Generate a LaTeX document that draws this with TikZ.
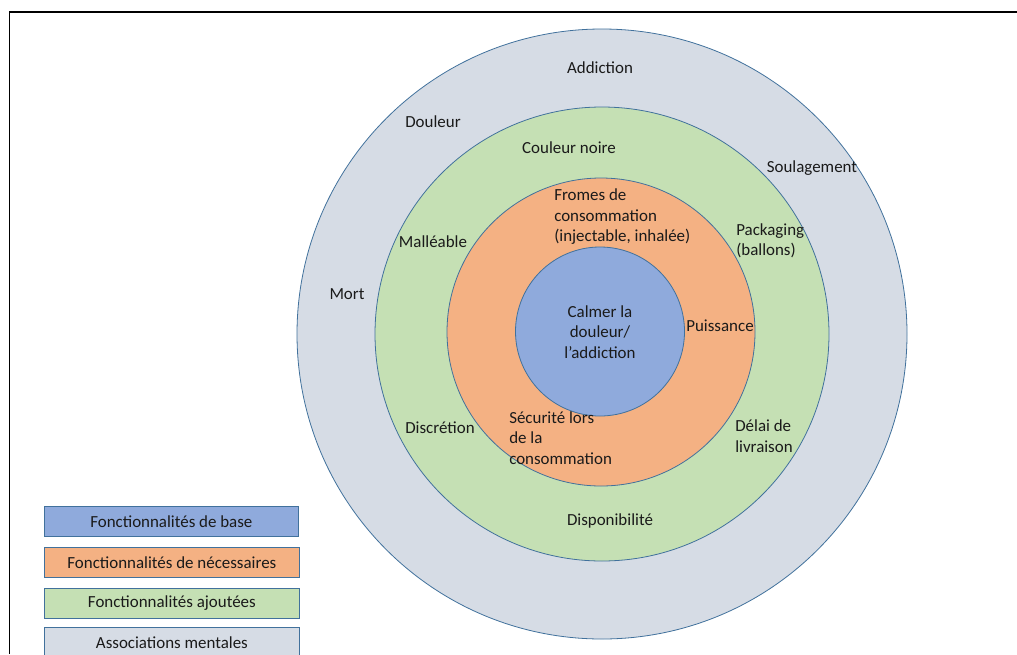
\documentclass[tikz,border=0pt]{standalone}
\usepackage{fontspec}
\setmainfont{Carlito}
\definecolor{cblue}{HTML}{8FAADC}
\definecolor{corange}{HTML}{F4B183}
\definecolor{cgreen}{HTML}{C5E0B4}
\definecolor{cgrey}{HTML}{D6DCE5}
\definecolor{cline}{HTML}{41719C}
\definecolor{ctext}{HTML}{1A1A1A}
\begin{document}
\begin{tikzpicture}[x=0.75pt,y=-0.75pt,
  ring/.style={draw=cline,line width=0.6pt},
  lbl/.style={font=\fontsize{12.7}{15.4}\selectfont,text=ctext,inner sep=0pt},
  lblL/.style={lbl,align=left,anchor=west},
  legbox/.style={draw=cline,line width=0.6pt,minimum width=254*0.75pt,minimum height=30*0.75pt,anchor=north west,font=\fontsize{12.7}{14}\selectfont,text=ctext,inner sep=0pt}]
\useasboundingbox (0,0) rectangle (1017,654);
\draw[line width=1pt] (1017,12) -- (9.5,12) -- (9.5,654);
% rings
\fill[cgrey] (602,334) circle (305);
\draw[ring] (602,334) circle (305);
\fill[cgreen] (602,334) circle (227);
\draw[ring] (602,334) circle (227);
\fill[corange] (601,332) circle (154);
\draw[ring] (601,332) circle (154);
\fill[cblue] (600,331.5) circle (84.5);
\draw[ring] (600,331.5) circle (84.5);
% labels
\node[lbl] (addiction) at (600,68) {Addiction};
\node[lbl] (douleur) at (433,122) {Douleur};
\node[lbl] (soulagement) at (812,168) {Soulagement};
\node[lbl] (mort) at (347,294) {Mort};
\node[lbl] (couleur) at (569,148) {Couleur noire};
\node[lbl] (malleable) at (433,242) {Malléable};
\node[lblL] (fromes) at (554,217) {Fromes de\\consommation\\(injectable, inhalée)};
\node[lblL] (packaging) at (736,241) {Packaging\\(ballons)};
\node[lbl,align=center] (calmer) at (600,332) {Calmer la\\douleur/\\l’addiction};
\node[lbl] (puissance) at (720,326) {Puissance};
\node[lbl] (discretion) at (440,428) {Discrétion};
\node[lblL] (securite) at (509,438) {Sécurité lors\\de la\\consommation};
\node[lblL] (delai) at (735,436) {Délai de\\livraison};
\node[lbl] (dispo) at (610,521) {Disponibilité};
% legend
\node[legbox,fill=cblue] (leg1) at (44,506) {Fonctionnalités de base};
\node[legbox,fill=corange,minimum width=255*0.75pt] (leg2) at (44,547) {Fonctionnalités de nécessaires};
\node[legbox,fill=cgreen,minimum width=255*0.75pt,minimum height=29.5*0.75pt] (leg3) at (44,588) {Fonctionnalités ajoutées};
\node[legbox,fill=cgrey,minimum width=255*0.75pt] (leg4) at (44,627) {Associations mentales};
\end{tikzpicture}
\end{document}
